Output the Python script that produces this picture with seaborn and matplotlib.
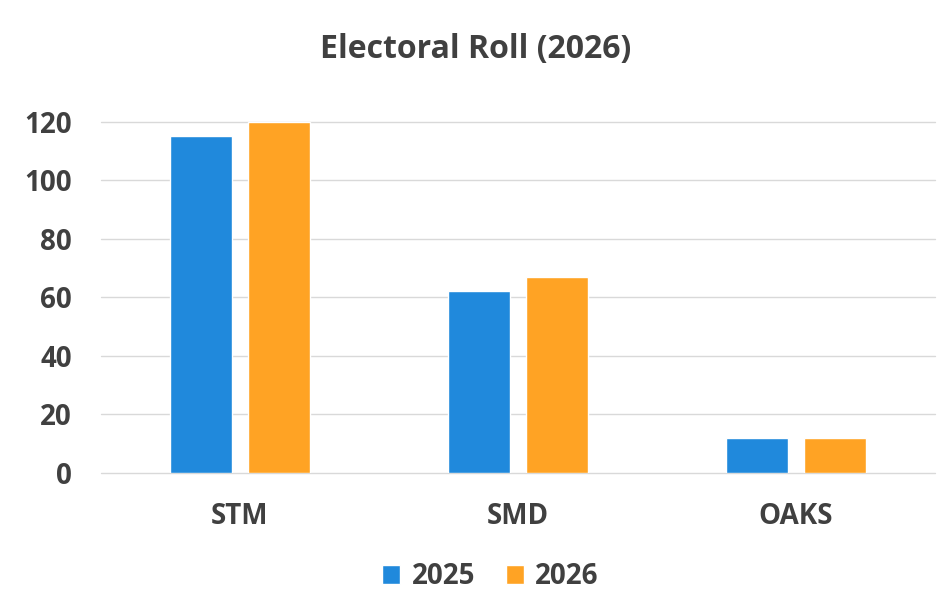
import pandas as pd
import matplotlib.pyplot as plt
import seaborn as sns

# Données
regions = ["STM", "SMD", "OAKS"]
years = ["2025", "2026"]
values_2025 = [115, 62, 12]
values_2026 = [120, 67, 12]

df = pd.DataFrame({
    "Region": regions * 2,
    "Year": [years[0]] * 3 + [years[1]] * 3,
    "Count": values_2025 + values_2026,
})

sns.set_theme(style="white")
plt.rcParams["font.family"] = ["Open Sans", "DejaVu Sans"]

text_col = "#404040"
palette = {"2025": "#2089DC", "2026": "#FFA324"}

fig = plt.figure(figsize=(9.52, 6.15), dpi=100)
ax = fig.add_axes([0.106, 0.231, 0.876, 0.571])

sns.barplot(data=df, x="Region", y="Count", hue="Year", palette=palette,
            width=0.56, gap=0.21, saturation=1, ax=ax, legend=True)

ax.set_ylim(0, 120)
ax.set_yticks(range(0, 121, 20))
ax.set_xlim(-0.5, 2.5)
ax.yaxis.grid(True, color="#d9d9d9", linewidth=1)
for gl in ax.get_ygridlines():
    gl.set_clip_on(False)
ax.set_axisbelow(True)
for s in ax.spines.values():
    s.set_visible(False)
ax.set_xlabel("")
ax.set_ylabel("")
ax.tick_params(axis="both", length=0, labelsize=20, labelcolor=text_col)
ax.tick_params(axis="x", pad=21)
ax.tick_params(axis="y", pad=21)
for lab in ax.get_xticklabels() + ax.get_yticklabels():
    lab.set_fontweight("bold")

fig.text(0.5, 0.92, "Electoral Roll (2026)", ha="center", va="center",
         fontsize=23, fontweight="bold", color=text_col)

handles, labels = ax.get_legend_handles_labels()
ax.legend_.remove()
leg = fig.legend(handles, labels, loc="center", bbox_to_anchor=(0.515, 0.062),
                 ncol=2, frameon=False, handlelength=0.65, handleheight=0.65,
                 handletextpad=0.4, columnspacing=1.1,
                 prop={"size": 20, "weight": "bold"})
for t in leg.get_texts():
    t.set_color(text_col)

fig.savefig("out.png", dpi=100, facecolor="white")
